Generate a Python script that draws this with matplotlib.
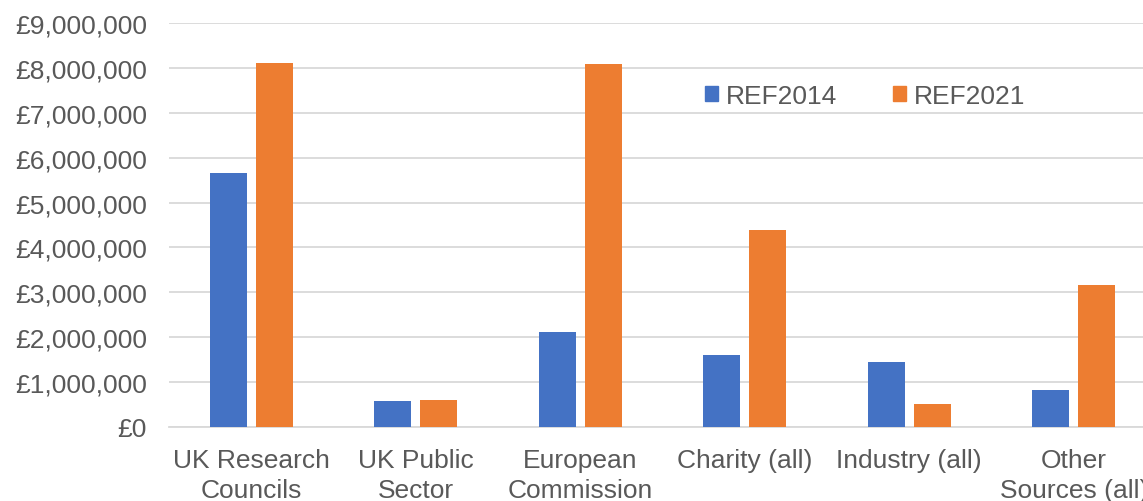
#!/usr/bin/env python3
"""Research income by funding source, REF2014 vs REF2021."""

import matplotlib

matplotlib.use("Agg")
import matplotlib.pyplot as plt
from matplotlib.patches import Patch
from matplotlib.ticker import FuncFormatter, MultipleLocator

categories = [
    "UK Research\nCouncils",
    "UK Public\nSector",
    "European\nCommission",
    "Charity (all)",
    "Industry (all)",
    "Other\nSources (all)",
]
ref2014 = [5_650_000, 570_000, 2_110_000, 1_600_000, 1_450_000, 820_000]
ref2021 = [8_100_000, 600_000, 8_080_000, 4_390_000, 510_000, 3_170_000]
series_names = ["REF2014", "REF2021"]

BLUE = "#4472C4"
ORANGE = "#ED7D31"
TEXT = "#595959"
GRID = "#D9D9D9"
FONT = "Liberation Sans"
SIZE = 19

plt.rcParams["font.family"] = [FONT, "DejaVu Sans"]

W, H = 1143, 502
fig = plt.figure(figsize=(W / 100, H / 100), dpi=100)
# plot area runs past the right edge of the picture, like the cropped original
ax = fig.add_axes([169 / W, 1 - 428 / H, 987 / W, 404 / H])

x = list(range(len(categories)))
bw = 0.225
off = 0.14
ax.bar([i - off for i in x], ref2014, width=bw, color=BLUE, zorder=3)
ax.bar([i + off for i in x], ref2021, width=bw, color=ORANGE, zorder=3)

ax.set_xlim(-0.5, len(categories) - 0.5)
ax.set_ylim(0, 9_000_000)
ax.yaxis.set_major_locator(MultipleLocator(1_000_000))
ax.yaxis.set_major_formatter(FuncFormatter(lambda v, _: f"£{v:,.0f}"))
ax.set_xticks(x)
ax.set_xticklabels(categories, linespacing=1.3)

ax.grid(axis="y", color=GRID, linewidth=1.3, zorder=0)
ax.set_axisbelow(True)
for side in ("top", "right", "left"):
    ax.spines[side].set_visible(False)
ax.spines["bottom"].set_color(GRID)
ax.spines["bottom"].set_linewidth(1.3)
ax.tick_params(axis="both", length=0, labelsize=SIZE, labelcolor=TEXT)
ax.tick_params(axis="y", pad=16)
ax.tick_params(axis="x", pad=15)

handles = [Patch(color=BLUE), Patch(color=ORANGE)]
fig.legend(
    handles,
    series_names,
    loc="center left",
    bbox_to_anchor=(705 / W, 1 - 97 / H),
    ncol=2,
    frameon=False,
    fontsize=SIZE,
    labelcolor=TEXT,
    handlelength=0.5,
    handleheight=0.5,
    handletextpad=0.3,
    columnspacing=2.1,
    borderpad=0,
    borderaxespad=0,
)

fig.savefig("out.png", dpi=100)
